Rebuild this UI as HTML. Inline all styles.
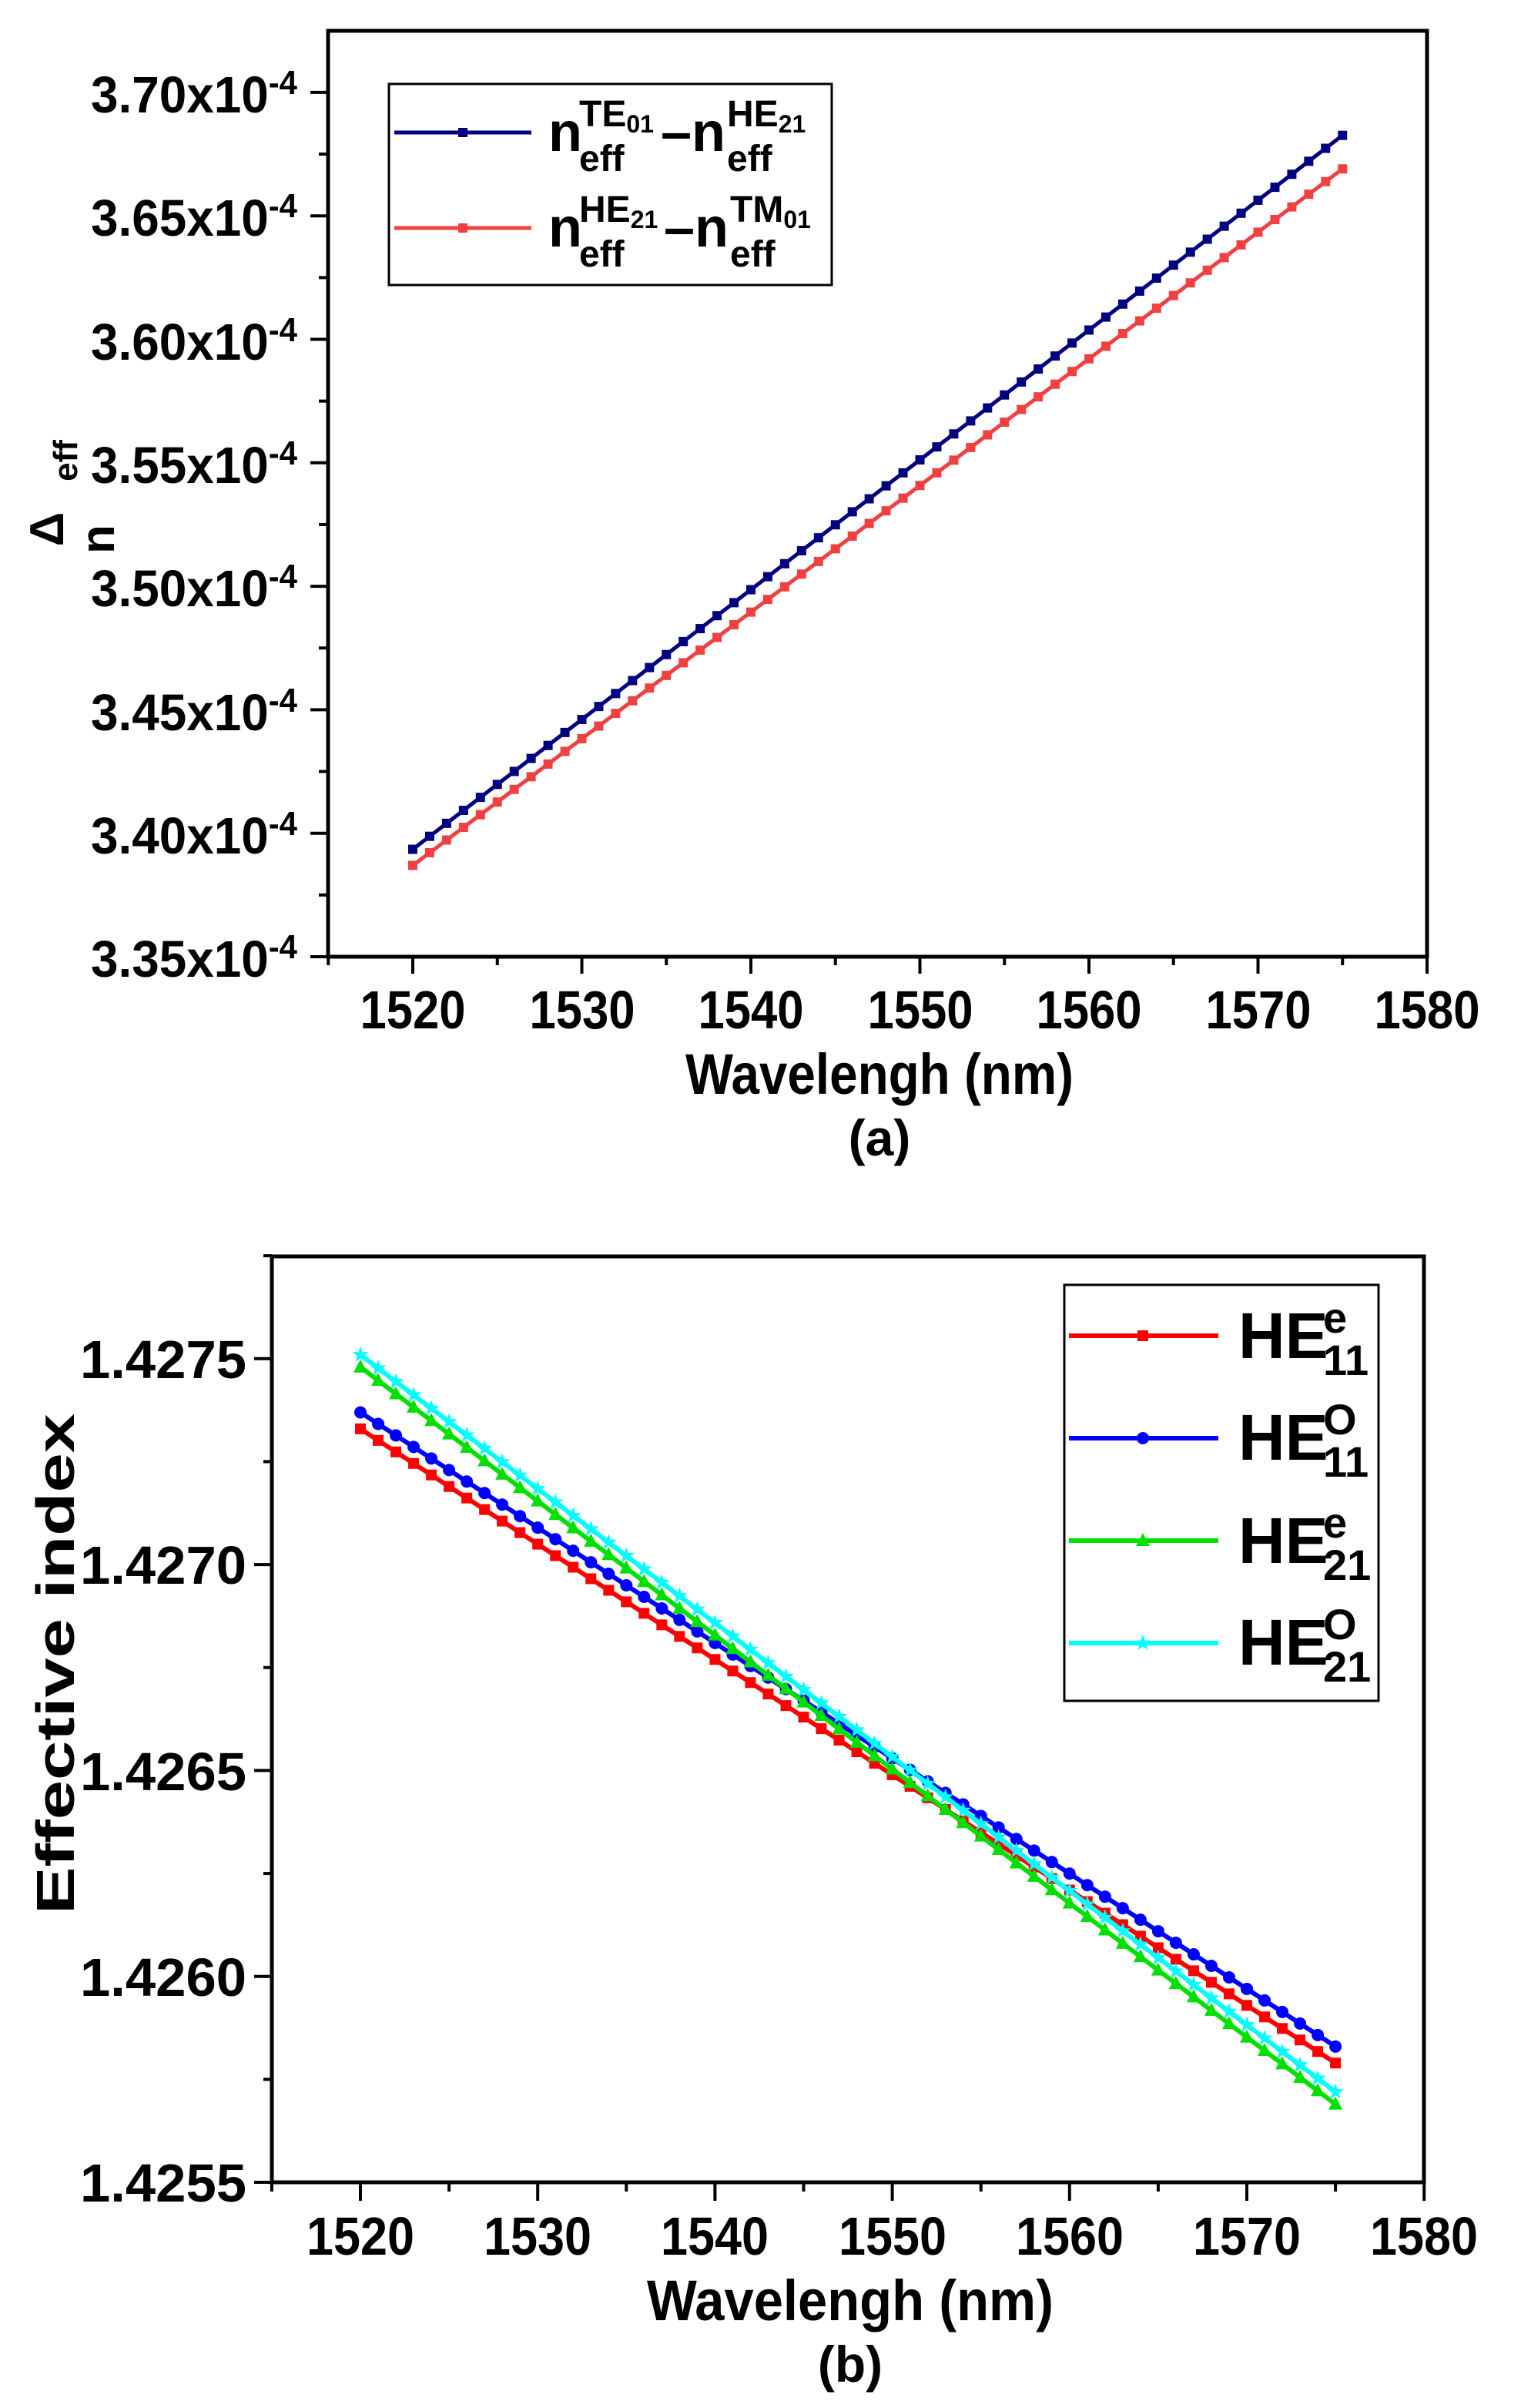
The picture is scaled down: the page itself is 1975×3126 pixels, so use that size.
<!DOCTYPE html>
<html><head><meta charset="utf-8"><style>
html,body{margin:0;padding:0;background:#fff}
svg{display:block}
text{font-family:"Liberation Sans",sans-serif;font-weight:bold;fill:#000}
</style></head><body>
<svg id="s" width="1975" height="3126" viewBox="0 0 1975 3126" xmlns="http://www.w3.org/2000/svg">
<rect width="1975" height="3126" fill="#fff"/>
<!-- TOP PLOT -->
<rect x="426" y="40" width="1427" height="1202" fill="none" stroke="#000" stroke-width="5"/>
<g id="tticks" stroke="#000" stroke-width="4"></g>
<g id="tdata"></g>
<g font-size="67">
<text x="386" y="146" text-anchor="end" textLength="268" lengthAdjust="spacingAndGlyphs">3.70x10<tspan dy="-24" font-size="44">-4</tspan></text>
<text x="386" y="306" text-anchor="end" textLength="268" lengthAdjust="spacingAndGlyphs">3.65x10<tspan dy="-24" font-size="44">-4</tspan></text>
<text x="386" y="467" text-anchor="end" textLength="268" lengthAdjust="spacingAndGlyphs">3.60x10<tspan dy="-24" font-size="44">-4</tspan></text>
<text x="386" y="627" text-anchor="end" textLength="268" lengthAdjust="spacingAndGlyphs">3.55x10<tspan dy="-24" font-size="44">-4</tspan></text>
<text x="386" y="787" text-anchor="end" textLength="268" lengthAdjust="spacingAndGlyphs">3.50x10<tspan dy="-24" font-size="44">-4</tspan></text>
<text x="386" y="948" text-anchor="end" textLength="268" lengthAdjust="spacingAndGlyphs">3.45x10<tspan dy="-24" font-size="44">-4</tspan></text>
<text x="386" y="1108" text-anchor="end" textLength="268" lengthAdjust="spacingAndGlyphs">3.40x10<tspan dy="-24" font-size="44">-4</tspan></text>
<text x="386" y="1268" text-anchor="end" textLength="268" lengthAdjust="spacingAndGlyphs">3.35x10<tspan dy="-24" font-size="44">-4</tspan></text>
</g>
<g font-size="70" text-anchor="middle">
<text x="536" y="1335" textLength="137" lengthAdjust="spacingAndGlyphs">1520</text><text x="756" y="1335" textLength="137" lengthAdjust="spacingAndGlyphs">1530</text><text x="975" y="1335" textLength="137" lengthAdjust="spacingAndGlyphs">1540</text>
<text x="1195" y="1335" textLength="137" lengthAdjust="spacingAndGlyphs">1550</text><text x="1414" y="1335" textLength="137" lengthAdjust="spacingAndGlyphs">1560</text><text x="1634" y="1335" textLength="137" lengthAdjust="spacingAndGlyphs">1570</text><text x="1853" y="1335" textLength="137" lengthAdjust="spacingAndGlyphs">1580</text>
</g>
<text x="1142" y="1420" font-size="74" text-anchor="middle" textLength="504" lengthAdjust="spacingAndGlyphs">Wavelengh (nm)</text>
<text x="1142" y="1500" font-size="66" text-anchor="middle" font-weight="normal">(a)</text>
<text transform="translate(82,687) rotate(-90)" font-size="62" text-anchor="middle" font-weight="normal">Δ</text>
<text transform="translate(148,700) rotate(-90)" font-size="62" text-anchor="middle">n</text>
<text transform="translate(100,598) rotate(-90)" font-size="44" text-anchor="middle">eff</text>
<!-- top legend -->
<rect x="505" y="109" width="575" height="261" fill="#fff" stroke="#000" stroke-width="3"/>
<line x1="512" y1="172" x2="690" y2="172" stroke="#000080" stroke-width="5"/>
<rect x="595" y="166" width="12" height="12" fill="#000080"/>
<line x1="512" y1="296" x2="690" y2="296" stroke="#f04040" stroke-width="5"/>
<rect x="595" y="290" width="12" height="12" fill="#f04040"/>
<g font-size="72">
<text x="712" y="196">n</text>
<text x="752" y="222" font-size="48">eff</text>
<text x="752" y="164" font-size="48">TE<tspan font-size="32" dy="8">01</tspan></text>
<text x="858" y="196">–n</text>
<text x="944" y="222" font-size="48">eff</text>
<text x="944" y="164" font-size="48">HE<tspan font-size="32" dy="8">21</tspan></text>
<text x="712" y="320">n</text>
<text x="752" y="346" font-size="48">eff</text>
<text x="752" y="288" font-size="48">HE<tspan font-size="32" dy="8">21</tspan></text>
<text x="862" y="320">–n</text>
<text x="948" y="346" font-size="48">eff</text>
<text x="948" y="288" font-size="48">TM<tspan font-size="32" dy="8">01</tspan></text>
</g>

<!-- BOTTOM PLOT -->
<rect x="353" y="1631" width="1496" height="1202" fill="none" stroke="#000" stroke-width="5"/>
<g id="bticks" stroke="#000" stroke-width="4"></g>
<g id="bdata"></g>
<g font-size="70" text-anchor="end">
<text x="320" y="1789" textLength="216" lengthAdjust="spacingAndGlyphs">1.4275</text>
<text x="320" y="2056" textLength="216" lengthAdjust="spacingAndGlyphs">1.4270</text>
<text x="320" y="2324" textLength="216" lengthAdjust="spacingAndGlyphs">1.4265</text>
<text x="320" y="2591" textLength="216" lengthAdjust="spacingAndGlyphs">1.4260</text>
<text x="320" y="2858" textLength="216" lengthAdjust="spacingAndGlyphs">1.4255</text>
</g>
<g font-size="70" text-anchor="middle">
<text x="468" y="2927" textLength="140" lengthAdjust="spacingAndGlyphs">1520</text><text x="698" y="2927" textLength="140" lengthAdjust="spacingAndGlyphs">1530</text><text x="928" y="2927" textLength="140" lengthAdjust="spacingAndGlyphs">1540</text>
<text x="1159" y="2927" textLength="140" lengthAdjust="spacingAndGlyphs">1550</text><text x="1389" y="2927" textLength="140" lengthAdjust="spacingAndGlyphs">1560</text><text x="1619" y="2927" textLength="140" lengthAdjust="spacingAndGlyphs">1570</text><text x="1849" y="2927" textLength="140" lengthAdjust="spacingAndGlyphs">1580</text>
</g>
<text x="1104" y="3012" font-size="74" text-anchor="middle" textLength="528" lengthAdjust="spacingAndGlyphs">Wavelengh (nm)</text>
<text x="1104" y="3092" font-size="66" text-anchor="middle" font-weight="normal">(b)</text>
<text transform="translate(96,2160) rotate(-90)" font-size="70" text-anchor="middle" textLength="650" lengthAdjust="spacingAndGlyphs">Effective index</text>
<!-- bottom legend -->
<rect x="1382" y="1668" width="408" height="540" fill="#fff" stroke="#000" stroke-width="3"/>
<g id="blegm"></g>
<g font-size="84">
<text x="1608" y="1763">HE</text><text x="1718" y="1730" font-size="56">e</text><text x="1718" y="1785" font-size="56">11</text>
<text x="1608" y="1895">HE</text><text x="1718" y="1862" font-size="56">O</text><text x="1718" y="1917" font-size="56">11</text>
<text x="1608" y="2029">HE</text><text x="1718" y="1996" font-size="56">e</text><text x="1718" y="2051" font-size="56">21</text>
<text x="1608" y="2161">HE</text><text x="1718" y="2128" font-size="56">O</text><text x="1718" y="2183" font-size="56">21</text>
</g>
</svg>
<script>
var NS="http://www.w3.org/2000/svg";
function el(p,t,a){var e=document.createElementNS(NS,t);for(var k in a)e.setAttribute(k,a[k]);p.appendChild(e);return e;}
var tt=document.getElementById("tticks");
for(var i=0;i<=14;i++){var y=1242-i*80.15;el(tt,"line",{x1:i%2?414:403,y1:y,x2:426,y2:y});}
for(var l=1515;l<=1580;l+=5){var x=536+(l-1520)*21.95;el(tt,"line",{x1:x,y1:1242,x2:x,y2:(l%10==0)?1264:1253});}
var bt=document.getElementById("bticks");
for(var i=0;i<=9;i++){var y=2833-i*133.65;el(bt,"line",{x1:i%2?342:330,y1:y,x2:353,y2:y});}
for(var l=1515;l<=1580;l+=5){var x=468+(l-1520)*23.02;el(bt,"line",{x1:x,y1:2833,x2:x,y2:(l%10==0)?2857:2845});}
var td=document.getElementById("tdata");
function TX(l){return 536+(l-1520)*21.95;} function TY(v){return 1242-(v-3.35)/0.05*160.3;}
[[3.3935,3.6826,"#000080"],[3.387,3.669,"#f04040"]].forEach(function(s){
 var pts=[];for(var l=1520;l<=1575;l++){var v=s[0]+(s[1]-s[0])*(l-1520)/55;pts.push([TX(l),TY(v)]);}
 el(td,"polyline",{points:pts.map(function(p){return p.join(",")}).join(" "),fill:"none",stroke:s[2],"stroke-width":5});
 pts.forEach(function(p){el(td,"rect",{x:p[0]-6,y:p[1]-6,width:12,height:12,fill:s[2]});});
});
var bd=document.getElementById("bdata");
function BX(l){return 468+(l-1520)*23.02;} function BY(v){return 1764+(1.4275-v)/0.0005*267.3;}
function marker(g,type,x,y,c){
 if(type=="sq")el(g,"rect",{x:x-7,y:y-7,width:14,height:14,fill:c});
 else if(type=="ci")el(g,"circle",{cx:x,cy:y,r:8,fill:c});
 else if(type=="tr")el(g,"polygon",{points:(x)+","+(y-10)+" "+(x-9)+","+(y+7)+" "+(x+9)+","+(y+7),fill:c});
 else{var p=[];for(var k=0;k<10;k++){var r=k%2?4.5:11,a=-Math.PI/2+k*Math.PI/5;p.push((x+r*Math.cos(a)).toFixed(1)+","+(y+r*Math.sin(a)).toFixed(1));}el(g,"polygon",{points:p.join(" "),fill:c});}
}
var ser=[[1.42733,1.42579,"#ff0000","sq"],[1.42737,1.42583,"#0000ff","ci"],[1.42748,1.42569,"#00e000","tr"],[1.42751,1.42572,"#00ffff","st"]];
ser.forEach(function(s,idx){
 var pts=[];for(var l=1520;l<=1575;l++){var v=s[0]+(s[1]-s[0])*(l-1520)/55;pts.push([BX(l),BY(v)]);}
 el(bd,"polyline",{points:pts.map(function(p){return p.join(",")}).join(" "),fill:"none",stroke:s[2],"stroke-width":6});
 pts.forEach(function(p){marker(bd,s[3],p[0],p[1],s[2]);});
 var lg=document.getElementById("blegm");var ly=1734+idx*133;
 el(lg,"line",{x1:1388,y1:ly,x2:1582,y2:ly,stroke:s[2],"stroke-width":6});
 marker(lg,s[3],1484,ly,s[2]);
});
</script>
</body></html>
